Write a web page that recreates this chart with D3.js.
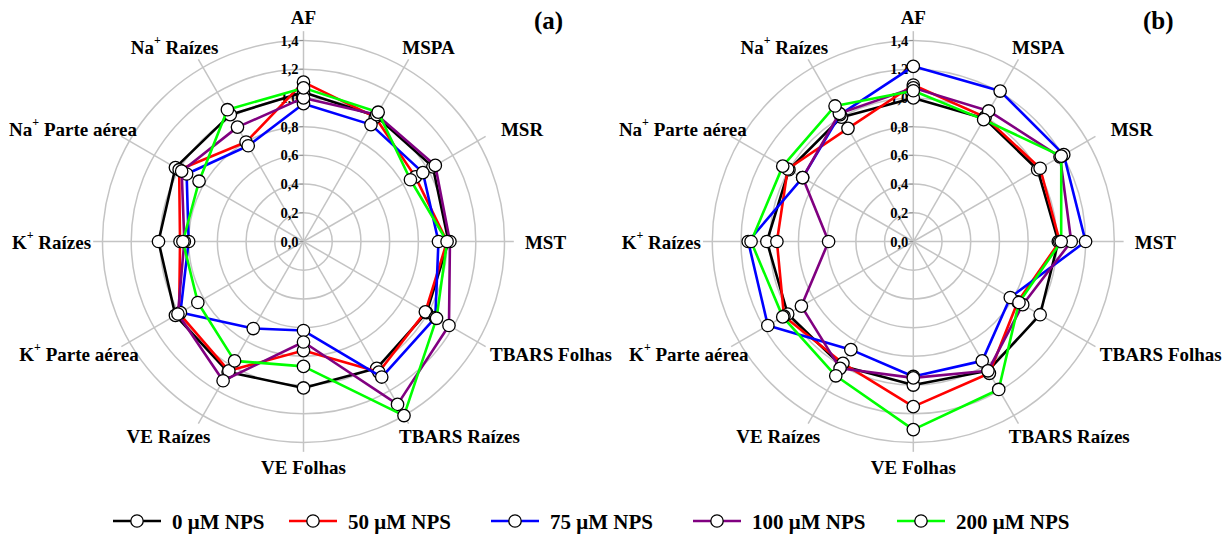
<!DOCTYPE html>
<html>
<head>
<meta charset="utf-8">
<script src="https://cdn.jsdelivr.net/npm/d3@7"></script>
<style>
  html, body { margin: 0; padding: 0; background: #fff; }
</style>
</head>
<body>
<svg id="chart" width="1229" height="537"></svg>
<script>
// Axes of the radar, clockwise from the top
const axes = [
  { base: "AF" }, { base: "MSPA" }, { base: "MSR" }, { base: "MST" },
  { base: "TBARS Folhas" }, { base: "TBARS Raízes" }, { base: "VE Folhas" },
  { base: "VE Raízes" }, { base: "K", sup: "+", rest: " Parte aérea" },
  { base: "K", sup: "+", rest: " Raízes" }, { base: "Na", sup: "+", rest: " Parte aérea" },
  { base: "Na", sup: "+", rest: " Raízes" }
];

const ticks = [0, 0.2, 0.4, 0.6, 0.8, 1.0, 1.2, 1.4];
const tickLabels = ["0,0", "0,2", "0,4", "0,6", "0,8", "1,0", "1,2", "1,4"];

const seriesNames = ["0 μM NPS", "50 μM NPS", "75 μM NPS", "100 μM NPS", "200 μM NPS"];
const seriesColors = ["#000000", "#ff0000", "#0000ff", "#800080", "#00ff00"];

// Panel (a): relative values per axis, one array per treatment
const a0   = [1.04, 1.01, 1.04, 1.01, 0.99, 1.02, 1.02, 1.05, 1.03, 1.01, 1.03, 1.02];
const a50  = [1.11, 1.00, 0.90, 1.00, 0.98, 1.05, 0.76, 1.04, 1.00, 0.86, 1.00, 0.80];
const a75  = [0.96, 0.94, 0.96, 0.94, 1.06, 1.09, 0.62, 0.70, 0.99, 0.80, 0.94, 0.77];
const a100 = [1.00, 1.02, 1.06, 1.02, 1.17, 1.31, 0.70, 1.12, 1.01, 0.83, 0.98, 0.92];
const a200 = [1.07, 1.04, 0.86, 1.00, 1.07, 1.40, 0.87, 0.96, 0.85, 0.84, 0.84, 1.06];

// Panel (b)
const b0   = [1.00, 0.99, 1.00, 1.01, 1.02, 1.04, 1.00, 1.00, 1.01, 1.02, 1.00, 1.00];
const b50  = [1.09, 1.00, 1.02, 1.02, 0.84, 1.06, 1.15, 0.98, 1.04, 0.95, 1.01, 0.91];
const b75  = [1.22, 1.21, 1.21, 1.20, 0.78, 0.96, 0.94, 0.87, 1.17, 1.15, 0.89, 1.02];
const b100 = [1.07, 1.05, 1.18, 1.10, 0.88, 1.04, 0.95, 1.02, 0.90, 0.59, 0.89, 1.03];
const b200 = [1.05, 0.98, 1.19, 1.03, 0.85, 1.19, 1.31, 1.08, 1.05, 1.13, 1.05, 1.09];

const panels = [
  { tag: "(a)", cx: 303.5, cy: 241.5, series: [a0, a50, a75, a100, a200] },
  { tag: "(b)", cx: 913.3, cy: 241.5, series: [b0, b50, b75, b100, b200] }
];

// horizontal nudges (px) for the axis titles so long names clear the grid
const labelShift = [0, 0, 2, -8, 31, 31, 0, -10, -8, -2, -14, -4];

const FONT = "Liberation Serif";
const svg = d3.select("#chart");
const r = d3.scaleLinear().domain([0, 1.4]).range([0, 201]);
const angle = d3.scalePoint().domain(d3.range(axes.length)).range([0, 2 * Math.PI * (axes.length - 1) / axes.length]);
const pt = (i, v) => [r(v) * Math.sin(angle(i)), -r(v) * Math.cos(angle(i))];

panels.forEach(p => {
  const g = svg.append("g").attr("transform", `translate(${p.cx},${p.cy})`);

  // concentric rings
  g.selectAll("circle.ring").data(ticks.slice(1)).join("circle")
    .attr("class", "ring").attr("r", d => r(d))
    .attr("fill", "none").attr("stroke", "#c4c4c4").attr("stroke-width", 1.5);

  // spokes
  g.selectAll("line.spoke").data(axes).join("line")
    .attr("class", "spoke")
    .attr("x1", 0).attr("y1", 0)
    .attr("x2", (d, i) => pt(i, 1.465)[0]).attr("y2", (d, i) => pt(i, 1.465)[1])
    .attr("stroke", "#c4c4c4").attr("stroke-width", 1.5);

  // radial tick marks and labels along the first axis
  g.selectAll("line.tick").data(ticks).join("line")
    .attr("class", "tick")
    .attr("x1", -4).attr("x2", 0)
    .attr("y1", d => -r(d)).attr("y2", d => -r(d))
    .attr("stroke", "#909090").attr("stroke-width", 1);
  g.selectAll("text.tick").data(ticks).join("text")
    .attr("class", "tick")
    .attr("x", -5).attr("y", d => -r(d))
    .attr("text-anchor", "end").attr("dominant-baseline", "central")
    .attr("font-family", FONT).attr("font-weight", "bold")
    .attr("font-size", 14.5)
    .text((d, i) => tickLabels[i]);

  // axis titles
  const lab = g.selectAll("text.axis").data(axes).join("text")
    .attr("class", "axis")
    .attr("x", (d, i) => 250 * Math.sin(angle(i)) + labelShift[i])
    .attr("y", (d, i) => -225 * Math.cos(angle(i)))
    .attr("text-anchor", "middle").attr("dominant-baseline", "central")
    .attr("font-family", FONT).attr("font-weight", "bold")
    .attr("font-size", 19);
  lab.append("tspan").text(d => d.base);
  lab.filter(d => d.sup).append("tspan").attr("dy", -7).attr("font-size", 12).text(d => d.sup);
  lab.filter(d => d.sup).append("tspan").attr("dy", 7).text(d => d.rest);

  // series
  const line = d3.lineRadial().angle((d, i) => angle(i)).radius(d => r(d)).curve(d3.curveLinearClosed);
  p.series.forEach((vals, s) => {
    const sg = g.append("g");
    sg.append("path").attr("d", line(vals))
      .attr("fill", "none").attr("stroke", seriesColors[s]).attr("stroke-width", 2.6)
      .attr("stroke-linejoin", "round");
    sg.selectAll("circle").data(vals).join("circle")
      .attr("cx", (d, i) => pt(i, d)[0]).attr("cy", (d, i) => pt(i, d)[1])
      .attr("r", 6.2).attr("fill", "#fff").attr("stroke", "#000").attr("stroke-width", 1.3);
  });

  // panel tag
  svg.append("text").attr("x", p.cx + 245).attr("y", 29)
    .attr("font-family", FONT).attr("font-weight", "bold")
    .attr("font-size", 25).attr("text-anchor", "middle").text(p.tag);
});

// legend
const legX = [113, 289, 491, 693, 897];
const lg = svg.append("g").attr("transform", "translate(0,521)");
seriesNames.forEach((name, s) => {
  const x = legX[s];
  lg.append("line").attr("x1", x).attr("x2", x + 48).attr("y1", 0).attr("y2", 0)
    .attr("stroke", seriesColors[s]).attr("stroke-width", 2.6);
  lg.append("circle").attr("cx", x + 24).attr("cy", 0).attr("r", 6.2)
    .attr("fill", "#fff").attr("stroke", "#000").attr("stroke-width", 1.3);
  lg.append("text").attr("x", x + 59).attr("y", 1).attr("dominant-baseline", "central")
    .attr("font-family", FONT).attr("font-weight", "bold")
    .attr("font-size", 21).text(name);
});
</script>
</body>
</html>
